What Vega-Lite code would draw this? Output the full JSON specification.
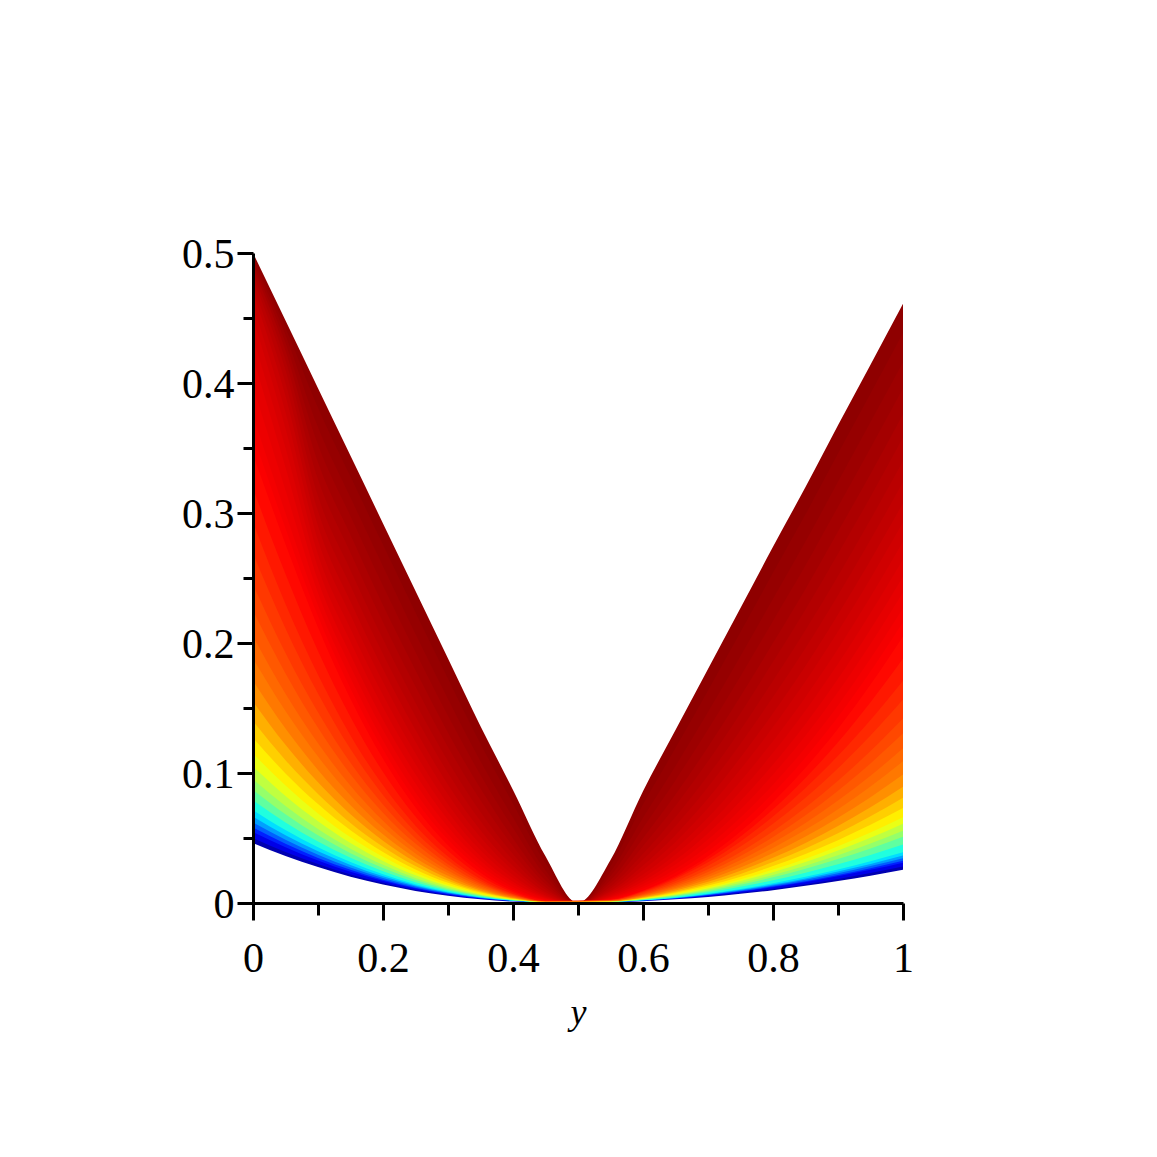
{"$schema":"https://vega.github.io/schema/vega-lite/v6.json","width":650,"height":650,"autosize":"none","padding":{"left":253,"top":253,"right":254,"bottom":254},"background":"white","config":{"view":{"stroke":null}},
"resolve":{"axis":{"x":"independent","y":"independent"}},
"layer":[
{"data":{"values":[
{"c":0,"x":0,"v":0.5},{"c":0,"x":0.05,"v":0.448},{"c":0,"x":0.1,"v":0.396},{"c":0,"x":0.15,"v":0.344},{"c":0,"x":0.2,"v":0.292},{"c":0,"x":0.25,"v":0.24},{"c":0,"x":0.3,"v":0.188},{"c":0,"x":0.35,"v":0.136},{"c":0,"x":0.4,"v":0.087},{"c":0,"x":0.45,"v":0.036},{"c":0,"x":0.5,"v":0},{"c":0,"x":0.55,"v":0.033},{"c":0,"x":0.6,"v":0.086},{"c":0,"x":0.65,"v":0.133},{"c":0,"x":0.7,"v":0.18},{"c":0,"x":0.75,"v":0.227},{"c":0,"x":0.8,"v":0.274},{"c":0,"x":0.85,"v":0.32},{"c":0,"x":0.9,"v":0.3675},{"c":0,"x":0.95,"v":0.414},{"c":0,"x":1,"v":0.461},
{"c":0.5,"x":0,"v":0.497},{"c":0.5,"x":0.05,"v":0.4425},{"c":0.5,"x":0.1,"v":0.381},{"c":0.5,"x":0.15,"v":0.328},{"c":0.5,"x":0.2,"v":0.2755},{"c":0.5,"x":0.25,"v":0.2235},{"c":0.5,"x":0.3,"v":0.1725},{"c":0.5,"x":0.35,"v":0.1225},{"c":0.5,"x":0.4,"v":0.0764},{"c":0.5,"x":0.45,"v":0.0305},{"c":0.5,"x":0.5,"v":0},{"c":0.5,"x":0.55,"v":0.0285},{"c":0.5,"x":0.6,"v":0.0758},{"c":0.5,"x":0.65,"v":0.1192},{"c":0.5,"x":0.7,"v":0.1635},{"c":0.5,"x":0.75,"v":0.2085},{"c":0.5,"x":0.8,"v":0.254},{"c":0.5,"x":0.85,"v":0.299},{"c":0.5,"x":0.9,"v":0.3458},{"c":0.5,"x":0.95,"v":0.392},{"c":0.5,"x":1,"v":0.4385},
{"c":1,"x":0,"v":0.494},{"c":1,"x":0.05,"v":0.437},{"c":1,"x":0.1,"v":0.366},{"c":1,"x":0.15,"v":0.312},{"c":1,"x":0.2,"v":0.259},{"c":1,"x":0.25,"v":0.207},{"c":1,"x":0.3,"v":0.157},{"c":1,"x":0.35,"v":0.109},{"c":1,"x":0.4,"v":0.0657},{"c":1,"x":0.45,"v":0.025},{"c":1,"x":0.5,"v":0},{"c":1,"x":0.55,"v":0.024},{"c":1,"x":0.6,"v":0.0655},{"c":1,"x":0.65,"v":0.1054},{"c":1,"x":0.7,"v":0.147},{"c":1,"x":0.75,"v":0.19},{"c":1,"x":0.8,"v":0.234},{"c":1,"x":0.85,"v":0.278},{"c":1,"x":0.9,"v":0.324},{"c":1,"x":0.95,"v":0.37},{"c":1,"x":1,"v":0.416},
{"c":1.5,"x":0,"v":0.491},{"c":1.5,"x":0.05,"v":0.431},{"c":1.5,"x":0.1,"v":0.3525},{"c":1.5,"x":0.15,"v":0.2975},{"c":1.5,"x":0.2,"v":0.244},{"c":1.5,"x":0.25,"v":0.193},{"c":1.5,"x":0.3,"v":0.144},{"c":1.5,"x":0.35,"v":0.0985},{"c":1.5,"x":0.4,"v":0.0577},{"c":1.5,"x":0.45,"v":0.0212},{"c":1.5,"x":0.5,"v":0},{"c":1.5,"x":0.55,"v":0.0208},{"c":1.5,"x":0.6,"v":0.0577},{"c":1.5,"x":0.65,"v":0.0945},{"c":1.5,"x":0.7,"v":0.1335},{"c":1.5,"x":0.75,"v":0.1745},{"c":1.5,"x":0.8,"v":0.217},{"c":1.5,"x":0.85,"v":0.2598},{"c":1.5,"x":0.9,"v":0.3049},{"c":1.5,"x":0.95,"v":0.35},{"c":1.5,"x":1,"v":0.396},
{"c":2,"x":0,"v":0.488},{"c":2,"x":0.05,"v":0.425},{"c":2,"x":0.1,"v":0.339},{"c":2,"x":0.15,"v":0.283},{"c":2,"x":0.2,"v":0.229},{"c":2,"x":0.25,"v":0.179},{"c":2,"x":0.3,"v":0.131},{"c":2,"x":0.35,"v":0.088},{"c":2,"x":0.4,"v":0.0497},{"c":2,"x":0.45,"v":0.0173},{"c":2,"x":0.5,"v":0},{"c":2,"x":0.55,"v":0.0175},{"c":2,"x":0.6,"v":0.0498},{"c":2,"x":0.65,"v":0.0835},{"c":2,"x":0.7,"v":0.12},{"c":2,"x":0.75,"v":0.159},{"c":2,"x":0.8,"v":0.2},{"c":2,"x":0.85,"v":0.2416},{"c":2,"x":0.9,"v":0.2857},{"c":2,"x":0.95,"v":0.33},{"c":2,"x":1,"v":0.376},
{"c":2.5,"x":0,"v":0.484},{"c":2.5,"x":0.05,"v":0.4175},{"c":2.5,"x":0.1,"v":0.326},{"c":2.5,"x":0.15,"v":0.2695},{"c":2.5,"x":0.2,"v":0.216},{"c":2.5,"x":0.25,"v":0.1665},{"c":2.5,"x":0.3,"v":0.12},{"c":2.5,"x":0.35,"v":0.079},{"c":2.5,"x":0.4,"v":0.0437},{"c":2.5,"x":0.45,"v":0.0147},{"c":2.5,"x":0.5,"v":0},{"c":2.5,"x":0.55,"v":0.0151},{"c":2.5,"x":0.6,"v":0.0439},{"c":2.5,"x":0.65,"v":0.0749},{"c":2.5,"x":0.7,"v":0.109},{"c":2.5,"x":0.75,"v":0.146},{"c":2.5,"x":0.8,"v":0.1855},{"c":2.5,"x":0.85,"v":0.2258},{"c":2.5,"x":0.9,"v":0.2687},{"c":2.5,"x":0.95,"v":0.3125},{"c":2.5,"x":1,"v":0.358},
{"c":3,"x":0,"v":0.48},{"c":3,"x":0.05,"v":0.41},{"c":3,"x":0.1,"v":0.313},{"c":3,"x":0.15,"v":0.256},{"c":3,"x":0.2,"v":0.203},{"c":3,"x":0.25,"v":0.154},{"c":3,"x":0.3,"v":0.109},{"c":3,"x":0.35,"v":0.07},{"c":3,"x":0.4,"v":0.0377},{"c":3,"x":0.45,"v":0.0121},{"c":3,"x":0.5,"v":0},{"c":3,"x":0.55,"v":0.0127},{"c":3,"x":0.6,"v":0.0379},{"c":3,"x":0.65,"v":0.0662},{"c":3,"x":0.7,"v":0.098},{"c":3,"x":0.75,"v":0.133},{"c":3,"x":0.8,"v":0.171},{"c":3,"x":0.85,"v":0.21},{"c":3,"x":0.9,"v":0.2516},{"c":3,"x":0.95,"v":0.295},{"c":3,"x":1,"v":0.34},
{"c":3.5,"x":0,"v":0.475},{"c":3.5,"x":0.05,"v":0.4},{"c":3.5,"x":0.1,"v":0.3015},{"c":3.5,"x":0.15,"v":0.244},{"c":3.5,"x":0.2,"v":0.1915},{"c":3.5,"x":0.25,"v":0.1435},{"c":3.5,"x":0.3,"v":0.1},{"c":3.5,"x":0.35,"v":0.063},{"c":3.5,"x":0.4,"v":0.0331},{"c":3.5,"x":0.45,"v":0.0103},{"c":3.5,"x":0.5,"v":0},{"c":3.5,"x":0.55,"v":0.011},{"c":3.5,"x":0.6,"v":0.0334},{"c":3.5,"x":0.65,"v":0.0593},{"c":3.5,"x":0.7,"v":0.0892},{"c":3.5,"x":0.75,"v":0.1225},{"c":3.5,"x":0.8,"v":0.1585},{"c":3.5,"x":0.85,"v":0.1962},{"c":3.5,"x":0.9,"v":0.2368},{"c":3.5,"x":0.95,"v":0.2794},{"c":3.5,"x":1,"v":0.3238},
{"c":4,"x":0,"v":0.47},{"c":4,"x":0.05,"v":0.39},{"c":4,"x":0.1,"v":0.29},{"c":4,"x":0.15,"v":0.232},{"c":4,"x":0.2,"v":0.18},{"c":4,"x":0.25,"v":0.133},{"c":4,"x":0.3,"v":0.091},{"c":4,"x":0.35,"v":0.056},{"c":4,"x":0.4,"v":0.0285},{"c":4,"x":0.45,"v":0.0084},{"c":4,"x":0.5,"v":0},{"c":4,"x":0.55,"v":0.0092},{"c":4,"x":0.6,"v":0.0288},{"c":4,"x":0.65,"v":0.0524},{"c":4,"x":0.7,"v":0.0803},{"c":4,"x":0.75,"v":0.112},{"c":4,"x":0.8,"v":0.146},{"c":4,"x":0.85,"v":0.1824},{"c":4,"x":0.9,"v":0.222},{"c":4,"x":0.95,"v":0.2637},{"c":4,"x":1,"v":0.3075},
{"c":4.5,"x":0,"v":0.46},{"c":4.5,"x":0.05,"v":0.3775},{"c":4.5,"x":0.1,"v":0.279},{"c":4.5,"x":0.15,"v":0.2215},{"c":4.5,"x":0.2,"v":0.17},{"c":4.5,"x":0.25,"v":0.124},{"c":4.5,"x":0.3,"v":0.0835},{"c":4.5,"x":0.35,"v":0.0505},{"c":4.5,"x":0.4,"v":0.0251},{"c":4.5,"x":0.45,"v":0.0071},{"c":4.5,"x":0.5,"v":0},{"c":4.5,"x":0.55,"v":0.008},{"c":4.5,"x":0.6,"v":0.0254},{"c":4.5,"x":0.65,"v":0.047},{"c":4.5,"x":0.7,"v":0.073},{"c":4.5,"x":0.75,"v":0.1028},{"c":4.5,"x":0.8,"v":0.1353},{"c":4.5,"x":0.85,"v":0.1705},{"c":4.5,"x":0.9,"v":0.2088},{"c":4.5,"x":0.95,"v":0.2496},{"c":4.5,"x":1,"v":0.2928},
{"c":5,"x":0,"v":0.45},{"c":5,"x":0.05,"v":0.365},{"c":5,"x":0.1,"v":0.268},{"c":5,"x":0.15,"v":0.211},{"c":5,"x":0.2,"v":0.16},{"c":5,"x":0.25,"v":0.115},{"c":5,"x":0.3,"v":0.076},{"c":5,"x":0.35,"v":0.045},{"c":5,"x":0.4,"v":0.0216},{"c":5,"x":0.45,"v":0.0058},{"c":5,"x":0.5,"v":0},{"c":5,"x":0.55,"v":0.0067},{"c":5,"x":0.6,"v":0.0219},{"c":5,"x":0.65,"v":0.0416},{"c":5,"x":0.7,"v":0.0657},{"c":5,"x":0.75,"v":0.0936},{"c":5,"x":0.8,"v":0.1246},{"c":5,"x":0.85,"v":0.1585},{"c":5,"x":0.9,"v":0.1955},{"c":5,"x":0.95,"v":0.2355},{"c":5,"x":1,"v":0.278},
{"c":5.5,"x":0,"v":0.435},{"c":5.5,"x":0.05,"v":0.35},{"c":5.5,"x":0.1,"v":0.258},{"c":5.5,"x":0.15,"v":0.201},{"c":5.5,"x":0.2,"v":0.1505},{"c":5.5,"x":0.25,"v":0.107},{"c":5.5,"x":0.3,"v":0.07},{"c":5.5,"x":0.35,"v":0.0405},{"c":5.5,"x":0.4,"v":0.019},{"c":5.5,"x":0.45,"v":0.005},{"c":5.5,"x":0.5,"v":0},{"c":5.5,"x":0.55,"v":0.0058},{"c":5.5,"x":0.6,"v":0.0193},{"c":5.5,"x":0.65,"v":0.0373},{"c":5.5,"x":0.7,"v":0.0597},{"c":5.5,"x":0.75,"v":0.086},{"c":5.5,"x":0.8,"v":0.1155},{"c":5.5,"x":0.85,"v":0.1481},{"c":5.5,"x":0.9,"v":0.184},{"c":5.5,"x":0.95,"v":0.223},{"c":5.5,"x":1,"v":0.2645},
{"c":6,"x":0,"v":0.42},{"c":6,"x":0.05,"v":0.335},{"c":6,"x":0.1,"v":0.248},{"c":6,"x":0.15,"v":0.191},{"c":6,"x":0.2,"v":0.141},{"c":6,"x":0.25,"v":0.099},{"c":6,"x":0.3,"v":0.064},{"c":6,"x":0.35,"v":0.036},{"c":6,"x":0.4,"v":0.0163},{"c":6,"x":0.45,"v":0.0041},{"c":6,"x":0.5,"v":0},{"c":6,"x":0.55,"v":0.0049},{"c":6,"x":0.6,"v":0.0167},{"c":6,"x":0.65,"v":0.033},{"c":6,"x":0.7,"v":0.0537},{"c":6,"x":0.75,"v":0.0784},{"c":6,"x":0.8,"v":0.1065},{"c":6,"x":0.85,"v":0.1377},{"c":6,"x":0.9,"v":0.1725},{"c":6,"x":0.95,"v":0.2105},{"c":6,"x":1,"v":0.251},
{"c":6.5,"x":0,"v":0.3975},{"c":6.5,"x":0.05,"v":0.3175},{"c":6.5,"x":0.1,"v":0.2385},{"c":6.5,"x":0.15,"v":0.182},{"c":6.5,"x":0.2,"v":0.133},{"c":6.5,"x":0.25,"v":0.092},{"c":6.5,"x":0.3,"v":0.0585},{"c":6.5,"x":0.35,"v":0.0325},{"c":6.5,"x":0.4,"v":0.0144},{"c":6.5,"x":0.45,"v":0.0035},{"c":6.5,"x":0.5,"v":0},{"c":6.5,"x":0.55,"v":0.0042},{"c":6.5,"x":0.6,"v":0.0147},{"c":6.5,"x":0.65,"v":0.0296},{"c":6.5,"x":0.7,"v":0.0488},{"c":6.5,"x":0.75,"v":0.072},{"c":6.5,"x":0.8,"v":0.0988},{"c":6.5,"x":0.85,"v":0.1287},{"c":6.5,"x":0.9,"v":0.1623},{"c":6.5,"x":0.95,"v":0.1993},{"c":6.5,"x":1,"v":0.2389},
{"c":7,"x":0,"v":0.375},{"c":7,"x":0.05,"v":0.3},{"c":7,"x":0.1,"v":0.229},{"c":7,"x":0.15,"v":0.173},{"c":7,"x":0.2,"v":0.125},{"c":7,"x":0.25,"v":0.085},{"c":7,"x":0.3,"v":0.053},{"c":7,"x":0.35,"v":0.029},{"c":7,"x":0.4,"v":0.0124},{"c":7,"x":0.45,"v":0.0028},{"c":7,"x":0.5,"v":0},{"c":7,"x":0.55,"v":0.0035},{"c":7,"x":0.6,"v":0.0127},{"c":7,"x":0.65,"v":0.0261},{"c":7,"x":0.7,"v":0.0439},{"c":7,"x":0.75,"v":0.0657},{"c":7,"x":0.8,"v":0.091},{"c":7,"x":0.85,"v":0.1197},{"c":7,"x":0.9,"v":0.152},{"c":7,"x":0.95,"v":0.188},{"c":7,"x":1,"v":0.2268},
{"c":7.5,"x":0,"v":0.36},{"c":7.5,"x":0.05,"v":0.288},{"c":7.5,"x":0.1,"v":0.2205},{"c":7.5,"x":0.15,"v":0.165},{"c":7.5,"x":0.2,"v":0.118},{"c":7.5,"x":0.25,"v":0.0793},{"c":7.5,"x":0.3,"v":0.0488},{"c":7.5,"x":0.35,"v":0.0262},{"c":7.5,"x":0.4,"v":0.0108},{"c":7.5,"x":0.45,"v":0.0024},{"c":7.5,"x":0.5,"v":0},{"c":7.5,"x":0.55,"v":0.003},{"c":7.5,"x":0.6,"v":0.0112},{"c":7.5,"x":0.65,"v":0.0234},{"c":7.5,"x":0.7,"v":0.0399},{"c":7.5,"x":0.75,"v":0.0604},{"c":7.5,"x":0.8,"v":0.0844},{"c":7.5,"x":0.85,"v":0.1119},{"c":7.5,"x":0.9,"v":0.143},{"c":7.5,"x":0.95,"v":0.178},{"c":7.5,"x":1,"v":0.2159},
{"c":8,"x":0,"v":0.345},{"c":8,"x":0.05,"v":0.276},{"c":8,"x":0.1,"v":0.212},{"c":8,"x":0.15,"v":0.157},{"c":8,"x":0.2,"v":0.111},{"c":8,"x":0.25,"v":0.0735},{"c":8,"x":0.3,"v":0.0445},{"c":8,"x":0.35,"v":0.0233},{"c":8,"x":0.4,"v":0.00935},{"c":8,"x":0.45,"v":0.00196},{"c":8,"x":0.5,"v":0},{"c":8,"x":0.55,"v":0.00258},{"c":8,"x":0.6,"v":0.00964},{"c":8,"x":0.65,"v":0.0207},{"c":8,"x":0.7,"v":0.0359},{"c":8,"x":0.75,"v":0.055},{"c":8,"x":0.8,"v":0.0777},{"c":8,"x":0.85,"v":0.104},{"c":8,"x":0.9,"v":0.134},{"c":8,"x":0.95,"v":0.168},{"c":8,"x":1,"v":0.205},
{"c":8.5,"x":0,"v":0.319},{"c":8.5,"x":0.05,"v":0.253},{"c":8.5,"x":0.1,"v":0.1938},{"c":8.5,"x":0.15,"v":0.143},{"c":8.5,"x":0.2,"v":0.1008},{"c":8.5,"x":0.25,"v":0.0665},{"c":8.5,"x":0.3,"v":0.0401},{"c":8.5,"x":0.35,"v":0.0209},{"c":8.5,"x":0.4,"v":0.0083},{"c":8.5,"x":0.45,"v":0.0017},{"c":8.5,"x":0.55,"v":0.0025},{"c":8.5,"x":0.6,"v":0.0092},{"c":8.5,"x":0.65,"v":0.0196},{"c":8.5,"x":0.7,"v":0.0336},{"c":8.5,"x":0.75,"v":0.0512},{"c":8.5,"x":0.8,"v":0.0721},{"c":8.5,"x":0.85,"v":0.0962},{"c":8.5,"x":0.9,"v":0.1236},{"c":8.5,"x":0.95,"v":0.1544},{"c":8.5,"x":1,"v":0.188},
{"c":9,"x":0,"v":0.293},{"c":9,"x":0.05,"v":0.23},{"c":9,"x":0.1,"v":0.1755},{"c":9,"x":0.15,"v":0.1289},{"c":9,"x":0.2,"v":0.0905},{"c":9,"x":0.25,"v":0.0595},{"c":9,"x":0.3,"v":0.0357},{"c":9,"x":0.35,"v":0.0184},{"c":9,"x":0.4,"v":0.0072},{"c":9,"x":0.45,"v":0.0015},{"c":9,"x":0.55,"v":0.0024},{"c":9,"x":0.6,"v":0.0087},{"c":9,"x":0.65,"v":0.0185},{"c":9,"x":0.7,"v":0.0313},{"c":9,"x":0.75,"v":0.0474},{"c":9,"x":0.8,"v":0.0665},{"c":9,"x":0.85,"v":0.0884},{"c":9,"x":0.9,"v":0.1132},{"c":9,"x":0.95,"v":0.1407},{"c":9,"x":1,"v":0.171},
{"c":9.5,"x":0,"v":0.269},{"c":9.5,"x":0.05,"v":0.2112},{"c":9.5,"x":0.1,"v":0.1612},{"c":9.5,"x":0.15,"v":0.1184},{"c":9.5,"x":0.2,"v":0.0831},{"c":9.5,"x":0.25,"v":0.0546},{"c":9.5,"x":0.3,"v":0.0328},{"c":9.5,"x":0.35,"v":0.0169},{"c":9.5,"x":0.4,"v":0.0067},{"c":9.5,"x":0.45,"v":0.0014},{"c":9.5,"x":0.55,"v":0.0022},{"c":9.5,"x":0.6,"v":0.008},{"c":9.5,"x":0.65,"v":0.0169},{"c":9.5,"x":0.7,"v":0.0287},{"c":9.5,"x":0.75,"v":0.0434},{"c":9.5,"x":0.8,"v":0.0609},{"c":9.5,"x":0.85,"v":0.0809},{"c":9.5,"x":0.9,"v":0.1036},{"c":9.5,"x":0.95,"v":0.1288},{"c":9.5,"x":1,"v":0.1565},
{"c":10,"x":0,"v":0.245},{"c":10,"x":0.05,"v":0.1923},{"c":10,"x":0.1,"v":0.1468},{"c":10,"x":0.15,"v":0.1078},{"c":10,"x":0.2,"v":0.0757},{"c":10,"x":0.25,"v":0.0497},{"c":10,"x":0.3,"v":0.0299},{"c":10,"x":0.35,"v":0.0154},{"c":10,"x":0.4,"v":0.0061},{"c":10,"x":0.45,"v":0.0012},{"c":10,"x":0.55,"v":0.002},{"c":10,"x":0.6,"v":0.0072},{"c":10,"x":0.65,"v":0.0153},{"c":10,"x":0.7,"v":0.026},{"c":10,"x":0.75,"v":0.0393},{"c":10,"x":0.8,"v":0.0552},{"c":10,"x":0.85,"v":0.0734},{"c":10,"x":0.9,"v":0.094},{"c":10,"x":0.95,"v":0.1169},{"c":10,"x":1,"v":0.142},
{"c":10.5,"x":0,"v":0.225},{"c":10.5,"x":0.05,"v":0.1766},{"c":10.5,"x":0.1,"v":0.1348},{"c":10.5,"x":0.15,"v":0.099},{"c":10.5,"x":0.2,"v":0.0695},{"c":10.5,"x":0.25,"v":0.0457},{"c":10.5,"x":0.3,"v":0.0275},{"c":10.5,"x":0.35,"v":0.0142},{"c":10.5,"x":0.4,"v":0.0056},{"c":10.5,"x":0.45,"v":0.0011},{"c":10.5,"x":0.55,"v":0.0019},{"c":10.5,"x":0.6,"v":0.0066},{"c":10.5,"x":0.65,"v":0.0141},{"c":10.5,"x":0.7,"v":0.0239},{"c":10.5,"x":0.75,"v":0.0362},{"c":10.5,"x":0.8,"v":0.0508},{"c":10.5,"x":0.85,"v":0.0675},{"c":10.5,"x":0.9,"v":0.0864},{"c":10.5,"x":0.95,"v":0.1074},{"c":10.5,"x":1,"v":0.1305},
{"c":11,"x":0,"v":0.205},{"c":11,"x":0.05,"v":0.1609},{"c":11,"x":0.1,"v":0.1228},{"c":11,"x":0.15,"v":0.0902},{"c":11,"x":0.2,"v":0.0633},{"c":11,"x":0.25,"v":0.0416},{"c":11,"x":0.3,"v":0.025},{"c":11,"x":0.35,"v":0.0129},{"c":11,"x":0.4,"v":0.0051},{"c":11,"x":0.45,"v":0.001},{"c":11,"x":0.55,"v":0.0017},{"c":11,"x":0.6,"v":0.006},{"c":11,"x":0.65,"v":0.0129},{"c":11,"x":0.7,"v":0.0218},{"c":11,"x":0.75,"v":0.033},{"c":11,"x":0.8,"v":0.0463},{"c":11,"x":0.85,"v":0.0615},{"c":11,"x":0.9,"v":0.0788},{"c":11,"x":0.95,"v":0.0979},{"c":11,"x":1,"v":0.119},
{"c":11.5,"x":0,"v":0.188},{"c":11.5,"x":0.05,"v":0.1476},{"c":11.5,"x":0.1,"v":0.1126},{"c":11.5,"x":0.15,"v":0.0827},{"c":11.5,"x":0.2,"v":0.058},{"c":11.5,"x":0.25,"v":0.0381},{"c":11.5,"x":0.3,"v":0.023},{"c":11.5,"x":0.35,"v":0.0118},{"c":11.5,"x":0.4,"v":0.0047},{"c":11.5,"x":0.45,"v":0.0009},{"c":11.5,"x":0.55,"v":0.0016},{"c":11.5,"x":0.6,"v":0.0055},{"c":11.5,"x":0.65,"v":0.0118},{"c":11.5,"x":0.7,"v":0.02},{"c":11.5,"x":0.75,"v":0.0302},{"c":11.5,"x":0.8,"v":0.0424},{"c":11.5,"x":0.85,"v":0.0563},{"c":11.5,"x":0.9,"v":0.0722},{"c":11.5,"x":0.95,"v":0.0897},{"c":11.5,"x":1,"v":0.109},
{"c":12,"x":0,"v":0.171},{"c":12,"x":0.05,"v":0.1342},{"c":12,"x":0.1,"v":0.1024},{"c":12,"x":0.15,"v":0.0752},{"c":12,"x":0.2,"v":0.0528},{"c":12,"x":0.25,"v":0.0347},{"c":12,"x":0.3,"v":0.0209},{"c":12,"x":0.35,"v":0.0107},{"c":12,"x":0.4,"v":0.0042},{"c":12,"x":0.45,"v":0.0009},{"c":12,"x":0.55,"v":0.0014},{"c":12,"x":0.6,"v":0.005},{"c":12,"x":0.65,"v":0.0107},{"c":12,"x":0.7,"v":0.0181},{"c":12,"x":0.75,"v":0.0274},{"c":12,"x":0.8,"v":0.0385},{"c":12,"x":0.85,"v":0.0511},{"c":12,"x":0.9,"v":0.0655},{"c":12,"x":0.95,"v":0.0814},{"c":12,"x":1,"v":0.0989},
{"c":13,"x":0,"v":0.155},{"c":13,"x":0.05,"v":0.1217},{"c":13,"x":0.1,"v":0.0928},{"c":13,"x":0.15,"v":0.0682},{"c":13,"x":0.2,"v":0.0479},{"c":13,"x":0.25,"v":0.0315},{"c":13,"x":0.3,"v":0.0189},{"c":13,"x":0.35,"v":0.0097},{"c":13,"x":0.4,"v":0.0038},{"c":13,"x":0.45,"v":0.0008},{"c":13,"x":0.55,"v":0.0013},{"c":13,"x":0.6,"v":0.0045},{"c":13,"x":0.65,"v":0.0097},{"c":13,"x":0.7,"v":0.0164},{"c":13,"x":0.75,"v":0.0248},{"c":13,"x":0.8,"v":0.0348},{"c":13,"x":0.85,"v":0.0462},{"c":13,"x":0.9,"v":0.0592},{"c":13,"x":0.95,"v":0.0736},{"c":13,"x":1,"v":0.0894},
{"c":14,"x":0,"v":0.14},{"c":14,"x":0.05,"v":0.1099},{"c":14,"x":0.1,"v":0.0839},{"c":14,"x":0.15,"v":0.0616},{"c":14,"x":0.2,"v":0.0433},{"c":14,"x":0.25,"v":0.0284},{"c":14,"x":0.3,"v":0.0171},{"c":14,"x":0.35,"v":0.0088},{"c":14,"x":0.4,"v":0.0035},{"c":14,"x":0.45,"v":0.0007},{"c":14,"x":0.55,"v":0.0011},{"c":14,"x":0.6,"v":0.0041},{"c":14,"x":0.65,"v":0.0087},{"c":14,"x":0.7,"v":0.0148},{"c":14,"x":0.75,"v":0.0224},{"c":14,"x":0.8,"v":0.0315},{"c":14,"x":0.85,"v":0.0419},{"c":14,"x":0.9,"v":0.0536},{"c":14,"x":0.95,"v":0.0667},{"c":14,"x":1,"v":0.081},
{"c":15,"x":0,"v":0.127},{"c":15,"x":0.05,"v":0.0997},{"c":15,"x":0.1,"v":0.0761},{"c":15,"x":0.15,"v":0.0559},{"c":15,"x":0.2,"v":0.0392},{"c":15,"x":0.25,"v":0.0258},{"c":15,"x":0.3,"v":0.0155},{"c":15,"x":0.35,"v":0.008},{"c":15,"x":0.4,"v":0.0031},{"c":15,"x":0.45,"v":0.0006},{"c":15,"x":0.55,"v":0.001},{"c":15,"x":0.6,"v":0.0037},{"c":15,"x":0.65,"v":0.0079},{"c":15,"x":0.7,"v":0.0134},{"c":15,"x":0.75,"v":0.0202},{"c":15,"x":0.8,"v":0.0284},{"c":15,"x":0.85,"v":0.0377},{"c":15,"x":0.9,"v":0.0483},{"c":15,"x":0.95,"v":0.0601},{"c":15,"x":1,"v":0.073},
{"c":16,"x":0,"v":0.115},{"c":16,"x":0.05,"v":0.0903},{"c":16,"x":0.1,"v":0.0689},{"c":16,"x":0.15,"v":0.0506},{"c":16,"x":0.2,"v":0.0355},{"c":16,"x":0.25,"v":0.0233},{"c":16,"x":0.3,"v":0.014},{"c":16,"x":0.35,"v":0.0072},{"c":16,"x":0.4,"v":0.0028},{"c":16,"x":0.45,"v":0.0006},{"c":16,"x":0.55,"v":0.0009},{"c":16,"x":0.6,"v":0.0034},{"c":16,"x":0.65,"v":0.0071},{"c":16,"x":0.7,"v":0.0121},{"c":16,"x":0.75,"v":0.0183},{"c":16,"x":0.8,"v":0.0257},{"c":16,"x":0.85,"v":0.0341},{"c":16,"x":0.9,"v":0.0437},{"c":16,"x":0.95,"v":0.0543},{"c":16,"x":1,"v":0.066},
{"c":17,"x":0,"v":0.105},{"c":17,"x":0.05,"v":0.0824},{"c":17,"x":0.1,"v":0.0629},{"c":17,"x":0.15,"v":0.0462},{"c":17,"x":0.2,"v":0.0324},{"c":17,"x":0.25,"v":0.0213},{"c":17,"x":0.3,"v":0.0128},{"c":17,"x":0.35,"v":0.0066},{"c":17,"x":0.4,"v":0.0026},{"c":17,"x":0.45,"v":0.0005},{"c":17,"x":0.55,"v":0.0009},{"c":17,"x":0.6,"v":0.0031},{"c":17,"x":0.65,"v":0.0066},{"c":17,"x":0.7,"v":0.0112},{"c":17,"x":0.75,"v":0.0169},{"c":17,"x":0.8,"v":0.0237},{"c":17,"x":0.85,"v":0.0315},{"c":17,"x":0.9,"v":0.0404},{"c":17,"x":0.95,"v":0.0502},{"c":17,"x":1,"v":0.061},
{"c":18,"x":0,"v":0.095},{"c":18,"x":0.05,"v":0.0746},{"c":18,"x":0.1,"v":0.0569},{"c":18,"x":0.15,"v":0.0418},{"c":18,"x":0.2,"v":0.0294},{"c":18,"x":0.25,"v":0.0193},{"c":18,"x":0.3,"v":0.0116},{"c":18,"x":0.35,"v":0.006},{"c":18,"x":0.4,"v":0.0023},{"c":18,"x":0.45,"v":0.0005},{"c":18,"x":0.55,"v":0.0008},{"c":18,"x":0.6,"v":0.0028},{"c":18,"x":0.65,"v":0.006},{"c":18,"x":0.7,"v":0.0102},{"c":18,"x":0.75,"v":0.0154},{"c":18,"x":0.8,"v":0.0216},{"c":18,"x":0.85,"v":0.0287},{"c":18,"x":0.9,"v":0.0367},{"c":18,"x":0.95,"v":0.0457},{"c":18,"x":1,"v":0.0555},
{"c":19,"x":0,"v":0.087},{"c":19,"x":0.05,"v":0.0683},{"c":19,"x":0.1,"v":0.0521},{"c":19,"x":0.15,"v":0.0383},{"c":19,"x":0.2,"v":0.0269},{"c":19,"x":0.25,"v":0.0177},{"c":19,"x":0.3,"v":0.0106},{"c":19,"x":0.35,"v":0.0055},{"c":19,"x":0.4,"v":0.0021},{"c":19,"x":0.45,"v":0.0004},{"c":19,"x":0.55,"v":0.0007},{"c":19,"x":0.6,"v":0.0026},{"c":19,"x":0.65,"v":0.0055},{"c":19,"x":0.7,"v":0.0093},{"c":19,"x":0.75,"v":0.0141},{"c":19,"x":0.8,"v":0.0198},{"c":19,"x":0.85,"v":0.0264},{"c":19,"x":0.9,"v":0.0338},{"c":19,"x":0.95,"v":0.042},{"c":19,"x":1,"v":0.051},
{"c":20,"x":0,"v":0.079},{"c":20,"x":0.05,"v":0.062},{"c":20,"x":0.1,"v":0.0473},{"c":20,"x":0.15,"v":0.0348},{"c":20,"x":0.2,"v":0.0244},{"c":20,"x":0.25,"v":0.016},{"c":20,"x":0.3,"v":0.0096},{"c":20,"x":0.35,"v":0.005},{"c":20,"x":0.4,"v":0.002},{"c":20,"x":0.45,"v":0.0004},{"c":20,"x":0.55,"v":0.0006},{"c":20,"x":0.6,"v":0.0023},{"c":20,"x":0.65,"v":0.0049},{"c":20,"x":0.7,"v":0.0082},{"c":20,"x":0.75,"v":0.0125},{"c":20,"x":0.8,"v":0.0175},{"c":20,"x":0.85,"v":0.0233},{"c":20,"x":0.9,"v":0.0298},{"c":20,"x":0.95,"v":0.037},{"c":20,"x":1,"v":0.045},
{"c":21,"x":0,"v":0.0715},{"c":21,"x":0.05,"v":0.0561},{"c":21,"x":0.1,"v":0.0428},{"c":21,"x":0.15,"v":0.0315},{"c":21,"x":0.2,"v":0.0221},{"c":21,"x":0.25,"v":0.0145},{"c":21,"x":0.3,"v":0.0087},{"c":21,"x":0.35,"v":0.0045},{"c":21,"x":0.4,"v":0.0018},{"c":21,"x":0.45,"v":0.0004},{"c":21,"x":0.55,"v":0.0005},{"c":21,"x":0.6,"v":0.002},{"c":21,"x":0.65,"v":0.0042},{"c":21,"x":0.7,"v":0.0071},{"c":21,"x":0.75,"v":0.0108},{"c":21,"x":0.8,"v":0.0152},{"c":21,"x":0.85,"v":0.0202},{"c":21,"x":0.9,"v":0.0258},{"c":21,"x":0.95,"v":0.0321},{"c":21,"x":1,"v":0.039},
{"c":22,"x":0,"v":0.0665},{"c":22,"x":0.05,"v":0.0522},{"c":22,"x":0.1,"v":0.0398},{"c":22,"x":0.15,"v":0.0293},{"c":22,"x":0.2,"v":0.0205},{"c":22,"x":0.25,"v":0.0135},{"c":22,"x":0.3,"v":0.0081},{"c":22,"x":0.35,"v":0.0042},{"c":22,"x":0.4,"v":0.0016},{"c":22,"x":0.45,"v":0.0003},{"c":22,"x":0.55,"v":0.0005},{"c":22,"x":0.6,"v":0.0019},{"c":22,"x":0.65,"v":0.0039},{"c":22,"x":0.7,"v":0.0067},{"c":22,"x":0.75,"v":0.0101},{"c":22,"x":0.8,"v":0.0142},{"c":22,"x":0.85,"v":0.0189},{"c":22,"x":0.9,"v":0.0242},{"c":22,"x":0.95,"v":0.03},{"c":22,"x":1,"v":0.0365},
{"c":23,"x":0,"v":0.062},{"c":23,"x":0.05,"v":0.0487},{"c":23,"x":0.1,"v":0.0371},{"c":23,"x":0.15,"v":0.0273},{"c":23,"x":0.2,"v":0.0192},{"c":23,"x":0.25,"v":0.0126},{"c":23,"x":0.3,"v":0.0076},{"c":23,"x":0.35,"v":0.0039},{"c":23,"x":0.4,"v":0.0015},{"c":23,"x":0.45,"v":0.0003},{"c":23,"x":0.55,"v":0.0005},{"c":23,"x":0.6,"v":0.0018},{"c":23,"x":0.65,"v":0.0037},{"c":23,"x":0.7,"v":0.0063},{"c":23,"x":0.75,"v":0.0096},{"c":23,"x":0.8,"v":0.0134},{"c":23,"x":0.85,"v":0.0178},{"c":23,"x":0.9,"v":0.0228},{"c":23,"x":0.95,"v":0.0284},{"c":23,"x":1,"v":0.0345},
{"c":24,"x":0,"v":0.058},{"c":24,"x":0.05,"v":0.0455},{"c":24,"x":0.1,"v":0.0347},{"c":24,"x":0.15,"v":0.0255},{"c":24,"x":0.2,"v":0.0179},{"c":24,"x":0.25,"v":0.0118},{"c":24,"x":0.3,"v":0.0071},{"c":24,"x":0.35,"v":0.0036},{"c":24,"x":0.4,"v":0.0014},{"c":24,"x":0.45,"v":0.0003},{"c":24,"x":0.55,"v":0.0005},{"c":24,"x":0.6,"v":0.0017},{"c":24,"x":0.65,"v":0.0035},{"c":24,"x":0.7,"v":0.0059},{"c":24,"x":0.75,"v":0.009},{"c":24,"x":0.8,"v":0.0126},{"c":24,"x":0.85,"v":0.0168},{"c":24,"x":0.9,"v":0.0215},{"c":24,"x":0.95,"v":0.0267},{"c":24,"x":1,"v":0.0325},
{"c":25,"x":0,"v":0.0546},{"c":25,"x":0.05,"v":0.0429},{"c":25,"x":0.1,"v":0.0327},{"c":25,"x":0.15,"v":0.024},{"c":25,"x":0.2,"v":0.0169},{"c":25,"x":0.25,"v":0.0111},{"c":25,"x":0.3,"v":0.0067},{"c":25,"x":0.35,"v":0.0034},{"c":25,"x":0.4,"v":0.0013},{"c":25,"x":0.45,"v":0.0003},{"c":25,"x":0.55,"v":0.0004},{"c":25,"x":0.6,"v":0.0016},{"c":25,"x":0.65,"v":0.0033},{"c":25,"x":0.7,"v":0.0057},{"c":25,"x":0.75,"v":0.0086},{"c":25,"x":0.8,"v":0.0121},{"c":25,"x":0.85,"v":0.016},{"c":25,"x":0.9,"v":0.0205},{"c":25,"x":0.95,"v":0.0255},{"c":25,"x":1,"v":0.031},
{"c":26,"x":0,"v":0.05},{"c":26,"x":0.05,"v":0.0393},{"c":26,"x":0.1,"v":0.03},{"c":26,"x":0.15,"v":0.022},{"c":26,"x":0.2,"v":0.0155},{"c":26,"x":0.25,"v":0.0102},{"c":26,"x":0.3,"v":0.0061},{"c":26,"x":0.35,"v":0.0031},{"c":26,"x":0.4,"v":0.0012},{"c":26,"x":0.45,"v":0.0002},{"c":26,"x":0.55,"v":0.0004},{"c":26,"x":0.6,"v":0.0014},{"c":26,"x":0.65,"v":0.003},{"c":26,"x":0.7,"v":0.0051},{"c":26,"x":0.75,"v":0.0078},{"c":26,"x":0.8,"v":0.0109},{"c":26,"x":0.85,"v":0.0145},{"c":26,"x":0.9,"v":0.0185},{"c":26,"x":0.95,"v":0.023},{"c":26,"x":1,"v":0.028},
{"c":27,"x":0,"v":0.046},{"c":27,"x":0.05,"v":0.0361},{"c":27,"x":0.1,"v":0.0276},{"c":27,"x":0.15,"v":0.0202},{"c":27,"x":0.2,"v":0.0142},{"c":27,"x":0.25,"v":0.0093},{"c":27,"x":0.3,"v":0.0056},{"c":27,"x":0.35,"v":0.0029},{"c":27,"x":0.4,"v":0.0011},{"c":27,"x":0.45,"v":0.0002},{"c":27,"x":0.55,"v":0.0004},{"c":27,"x":0.6,"v":0.0013},{"c":27,"x":0.65,"v":0.0028},{"c":27,"x":0.7,"v":0.0047},{"c":27,"x":0.75,"v":0.0071},{"c":27,"x":0.8,"v":0.0099},{"c":27,"x":0.85,"v":0.0132},{"c":27,"x":0.9,"v":0.0169},{"c":27,"x":0.95,"v":0.021},{"c":27,"x":1,"v":0.0255}
]},
"mark":{"type":"area","interpolate":"monotone"},
"encoding":{
"x":{"field":"x","type":"quantitative","scale":{"domain":[0,1],"nice":false,"zero":false},"axis":{"orient":"bottom","values":[0,0.2,0.4,0.6,0.8,1],"labelExpr":"''+datum.value","title":"y","titleFont":"Liberation Serif","titleFontStyle":"italic","titleFontWeight":"normal","titleFontSize":36,"titleColor":"black","titlePadding":16,"labelFont":"Liberation Serif","labelFontSize":42,"labelColor":"black","labelPadding":18,"labelFlush":false,"labelOverlap":false,"tickSize":17,"tickWidth":3,"tickColor":"black","domainColor":"black","domainWidth":3,"grid":false,"zindex":1}},
"y":{"field":"v","type":"quantitative","stack":null,"scale":{"domain":[0,0.5],"nice":false,"zero":false},"axis":{"orient":"left","values":[0,0.1,0.2,0.3,0.4,0.5],"labelExpr":"''+datum.value","title":null,"labelFont":"Liberation Serif","labelFontSize":42,"labelColor":"black","labelPadding":3,"labelFlush":false,"labelOverlap":false,"labelOffset":1,"tickSize":16,"tickWidth":3,"tickColor":"black","domainColor":"black","domainWidth":3,"grid":false,"zindex":1}},
"color":{"field":"c","type":"nominal","legend":null,"sort":null,"scale":{"domain":[0,0.5,1,1.5,2,2.5,3,3.5,4,4.5,5,5.5,6,6.5,7,7.5,8,8.5,9,9.5,10,10.5,11,11.5,12,13,14,15,16,17,18,19,20,21,22,23,24,25,26,27],"range":["#8f0000","#960000","#9d0000","#a40000","#ac0000","#b30000","#ba0000","#c10000","#c90000","#d00000","#d70000","#de0000","#e60000","#ed0000","#f40000","#fb0000","#ff0800","#ff1800","#ff2800","#ff3800","#ff4800","#ff5800","#ff6800","#ff7800","#ff8f00","#ffaf00","#ffcf00","#ffef00","#eaff15","#bfff40","#95ff6a","#60ffa0","#20ffdf","#00dfff","#00a0ff","#0060ff","#0020ff","#0000e8","#0000b0","#ffffff"]}}
}},
{"data":{"values":[{"x":0,"v":0}]},
"mark":{"type":"point","opacity":0},
"encoding":{
"x":{"field":"x","type":"quantitative","scale":{"domain":[0,1],"nice":false,"zero":false},"axis":{"orient":"bottom","values":[0.1,0.3,0.5,0.7,0.9],"labels":false,"title":null,"domain":false,"tickSize":12,"tickWidth":3,"tickColor":"black","grid":false,"zindex":1}},
"y":{"field":"v","type":"quantitative","scale":{"domain":[0,0.5],"nice":false,"zero":false},"axis":{"orient":"left","values":[0.05,0.15,0.25,0.35,0.45],"labels":false,"title":null,"domain":false,"tickSize":10,"tickWidth":3,"tickColor":"black","grid":false,"zindex":1}}
}}
]}
